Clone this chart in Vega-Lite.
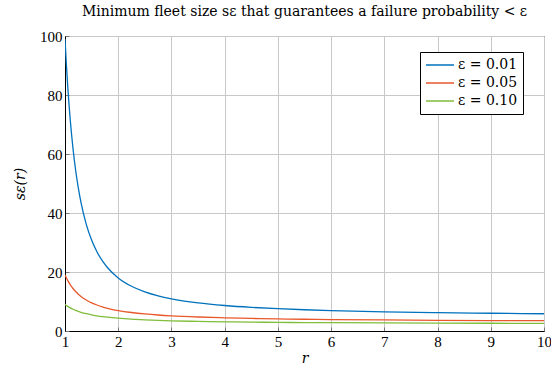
{
  "$schema": "https://vega.github.io/schema/vega-lite/v6.json",
  "width": 479,
  "height": 295,
  "autosize": {"type": "none"},
  "padding": {"left": 65, "top": 36, "right": 7, "bottom": 35},
  "background": "white",
  "title": {
    "text": "Minimum fleet size sε that guarantees a failure probability < ε",
    "font": "DejaVu Serif",
    "fontSize": 14,
    "fontWeight": "normal",
    "color": "black",
    "offset": 10,
    "anchor": "middle"
  },
  "config": {
    "view": {"stroke": "black", "strokeWidth": 1},
    "axis": {
      "labelFont": "Liberation Serif",
      "labelFontSize": 15,
      "labelColor": "black",
      "labelFlush": false,
      "titleFont": "DejaVu Serif",
      "titleFontSize": 14,
      "titleFontStyle": "italic",
      "titleFontWeight": "normal",
      "titleColor": "black",
      "gridColor": "#c8c8c8",
      "gridWidth": 1,
      "domainColor": "black",
      "tickColor": "#777777",
      "tickSize": -4,
      "labelPadding": 5
    },
    "legend": {
      "labelFont": "DejaVu Serif",
      "labelFontSize": 14,
      "labelColor": "black"
    }
  },
  "data": {
    "values": [
      {"r": 1, "s": 99, "eps": "ε = 0.01"},
      {"r": 1.025, "s": 90.58, "eps": "ε = 0.01"},
      {"r": 1.05, "s": 83.27, "eps": "ε = 0.01"},
      {"r": 1.1, "s": 71.27, "eps": "ε = 0.01"},
      {"r": 1.15, "s": 61.92, "eps": "ε = 0.01"},
      {"r": 1.2, "s": 54.5, "eps": "ε = 0.01"},
      {"r": 1.25, "s": 48.51, "eps": "ε = 0.01"},
      {"r": 1.3, "s": 43.62, "eps": "ε = 0.01"},
      {"r": 1.4, "s": 36.16, "eps": "ε = 0.01"},
      {"r": 1.5, "s": 30.82, "eps": "ε = 0.01"},
      {"r": 1.6, "s": 26.85, "eps": "ε = 0.01"},
      {"r": 1.7, "s": 23.82, "eps": "ε = 0.01"},
      {"r": 1.8, "s": 21.45, "eps": "ε = 0.01"},
      {"r": 2, "s": 18, "eps": "ε = 0.01"},
      {"r": 2.25, "s": 15.17, "eps": "ε = 0.01"},
      {"r": 2.5, "s": 13.27, "eps": "ε = 0.01"},
      {"r": 2.75, "s": 11.93, "eps": "ε = 0.01"},
      {"r": 3, "s": 10.92, "eps": "ε = 0.01"},
      {"r": 3.5, "s": 9.55, "eps": "ε = 0.01"},
      {"r": 4, "s": 8.65, "eps": "ε = 0.01"},
      {"r": 4.5, "s": 8.02, "eps": "ε = 0.01"},
      {"r": 5, "s": 7.56, "eps": "ε = 0.01"},
      {"r": 5.5, "s": 7.21, "eps": "ε = 0.01"},
      {"r": 6, "s": 6.93, "eps": "ε = 0.01"},
      {"r": 7, "s": 6.51, "eps": "ε = 0.01"},
      {"r": 8, "s": 6.23, "eps": "ε = 0.01"},
      {"r": 9, "s": 6.01, "eps": "ε = 0.01"},
      {"r": 10, "s": 5.85, "eps": "ε = 0.01"},
      {"r": 1, "s": 19, "eps": "ε = 0.05"},
      {"r": 1.025, "s": 18.03, "eps": "ε = 0.05"},
      {"r": 1.05, "s": 17.16, "eps": "ε = 0.05"},
      {"r": 1.1, "s": 15.66, "eps": "ε = 0.05"},
      {"r": 1.15, "s": 14.41, "eps": "ε = 0.05"},
      {"r": 1.2, "s": 13.37, "eps": "ε = 0.05"},
      {"r": 1.25, "s": 12.48, "eps": "ε = 0.05"},
      {"r": 1.3, "s": 11.72, "eps": "ε = 0.05"},
      {"r": 1.4, "s": 10.5, "eps": "ε = 0.05"},
      {"r": 1.5, "s": 9.55, "eps": "ε = 0.05"},
      {"r": 1.6, "s": 8.81, "eps": "ε = 0.05"},
      {"r": 1.7, "s": 8.2, "eps": "ε = 0.05"},
      {"r": 1.8, "s": 7.71, "eps": "ε = 0.05"},
      {"r": 2, "s": 6.94, "eps": "ε = 0.05"},
      {"r": 2.25, "s": 6.27, "eps": "ε = 0.05"},
      {"r": 2.5, "s": 5.79, "eps": "ε = 0.05"},
      {"r": 2.75, "s": 5.42, "eps": "ε = 0.05"},
      {"r": 3, "s": 5.14, "eps": "ε = 0.05"},
      {"r": 3.5, "s": 4.74, "eps": "ε = 0.05"},
      {"r": 4, "s": 4.46, "eps": "ε = 0.05"},
      {"r": 4.5, "s": 4.26, "eps": "ε = 0.05"},
      {"r": 5, "s": 4.1, "eps": "ε = 0.05"},
      {"r": 5.5, "s": 3.98, "eps": "ε = 0.05"},
      {"r": 6, "s": 3.89, "eps": "ε = 0.05"},
      {"r": 7, "s": 3.74, "eps": "ε = 0.05"},
      {"r": 8, "s": 3.63, "eps": "ε = 0.05"},
      {"r": 9, "s": 3.55, "eps": "ε = 0.05"},
      {"r": 10, "s": 3.49, "eps": "ε = 0.05"},
      {"r": 1, "s": 9, "eps": "ε = 0.10"},
      {"r": 1.025, "s": 8.67, "eps": "ε = 0.10"},
      {"r": 1.05, "s": 8.36, "eps": "ε = 0.10"},
      {"r": 1.1, "s": 7.82, "eps": "ε = 0.10"},
      {"r": 1.15, "s": 7.37, "eps": "ε = 0.10"},
      {"r": 1.2, "s": 6.98, "eps": "ε = 0.10"},
      {"r": 1.25, "s": 6.64, "eps": "ε = 0.10"},
      {"r": 1.3, "s": 6.34, "eps": "ε = 0.10"},
      {"r": 1.4, "s": 5.85, "eps": "ε = 0.10"},
      {"r": 1.5, "s": 5.46, "eps": "ε = 0.10"},
      {"r": 1.6, "s": 5.15, "eps": "ε = 0.10"},
      {"r": 1.7, "s": 4.89, "eps": "ε = 0.10"},
      {"r": 1.8, "s": 4.67, "eps": "ε = 0.10"},
      {"r": 2, "s": 4.33, "eps": "ε = 0.10"},
      {"r": 2.25, "s": 4.01, "eps": "ε = 0.10"},
      {"r": 2.5, "s": 3.78, "eps": "ε = 0.10"},
      {"r": 2.75, "s": 3.6, "eps": "ε = 0.10"},
      {"r": 3, "s": 3.46, "eps": "ε = 0.10"},
      {"r": 3.5, "s": 3.26, "eps": "ε = 0.10"},
      {"r": 4, "s": 3.11, "eps": "ε = 0.10"},
      {"r": 4.5, "s": 3.01, "eps": "ε = 0.10"},
      {"r": 5, "s": 2.92, "eps": "ε = 0.10"},
      {"r": 5.5, "s": 2.86, "eps": "ε = 0.10"},
      {"r": 6, "s": 2.81, "eps": "ε = 0.10"},
      {"r": 7, "s": 2.73, "eps": "ε = 0.10"},
      {"r": 8, "s": 2.67, "eps": "ε = 0.10"},
      {"r": 9, "s": 2.62, "eps": "ε = 0.10"},
      {"r": 10, "s": 2.59, "eps": "ε = 0.10"}
    ]
  },
  "mark": {"type": "line", "interpolate": "monotone", "strokeWidth": 1.3, "clip": true},
  "encoding": {
    "x": {
      "field": "r",
      "type": "quantitative",
      "scale": {"domain": [1, 10], "nice": false, "zero": false},
      "axis": {"values": [1, 2, 3, 4, 5, 6, 7, 8, 9, 10], "title": "r", "titlePadding": 2, "labelPadding": 7}
    },
    "y": {
      "field": "s",
      "type": "quantitative",
      "scale": {"domain": [0, 100], "nice": false},
      "axis": {"values": [0, 20, 40, 60, 80, 100], "title": "sε(r)", "titlePadding": 12, "labelPadding": 7}
    },
    "color": {
      "field": "eps",
      "type": "nominal",
      "scale": {
        "domain": ["ε = 0.01", "ε = 0.05", "ε = 0.10"],
        "range": ["#0072BD", "#E9582B", "#7FBD3A"]
      },
      "legend": {
        "title": null,
        "orient": "none",
        "legendX": 355,
        "legendY": 16,
        "strokeColor": "black",
        "fillColor": "white",
        "padding": 5,
        "symbolType": "stroke",
        "symbolSize": 784,
        "symbolStrokeWidth": 1.5,
        "clipHeight": 16,
        "rowPadding": 2,
        "labelOffset": 3
      }
    }
  }
}
